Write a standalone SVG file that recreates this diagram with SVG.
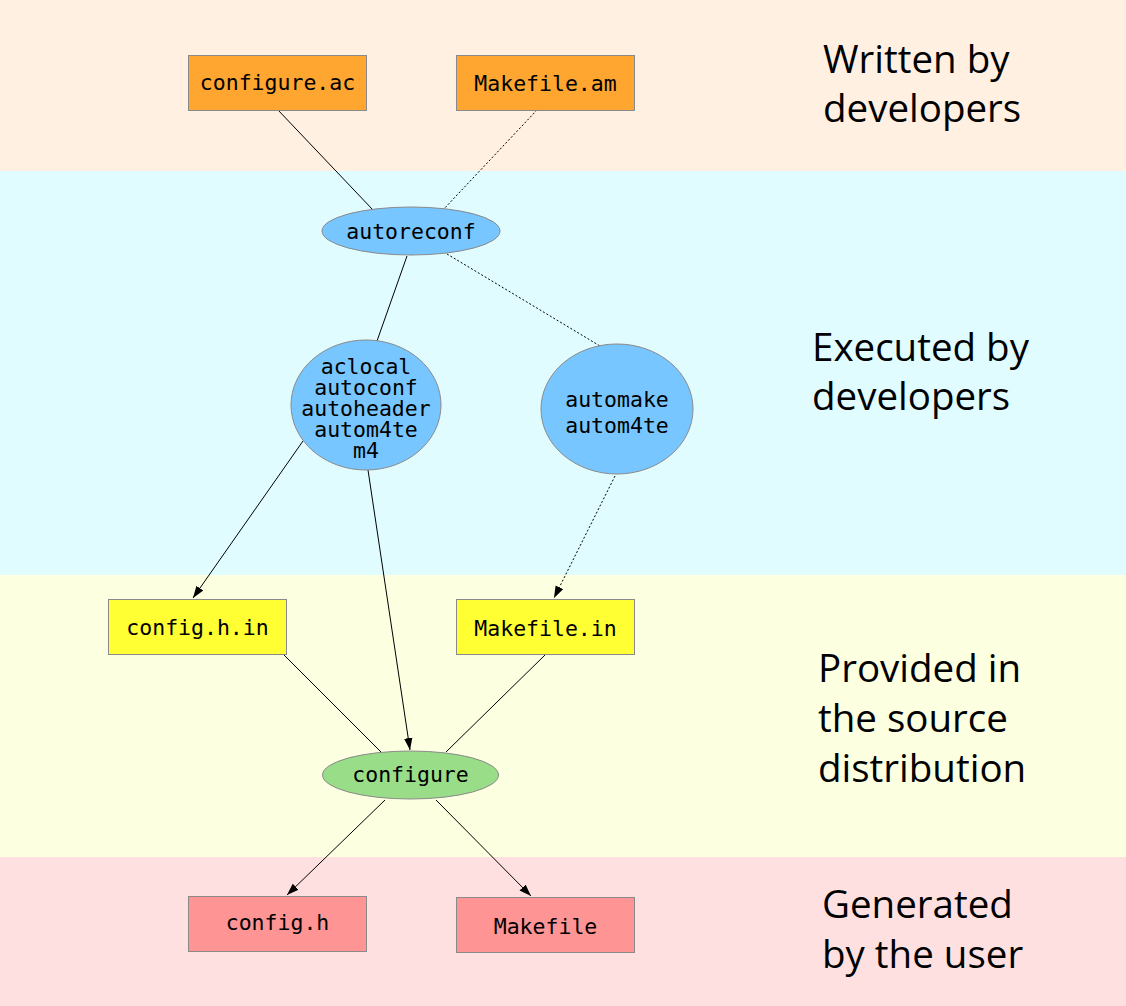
<svg xmlns="http://www.w3.org/2000/svg" width="1126" height="1006" viewBox="0 0 1126 1006">
<defs>
<marker id="arr" viewBox="0 0 12 10" refX="12" refY="5" markerWidth="12" markerHeight="10" markerUnits="userSpaceOnUse" orient="auto">
<path d="M0,0.8 L12,5 L0,9.2 Z" fill="#000"/>
</marker>
<style>
.box{stroke:#8a8a8a;stroke-width:1}
.t{font-family:"DejaVu Sans Mono",monospace;font-size:21.5px;fill:#000;text-anchor:middle}
.lab{font-family:"Open Sans","Noto Sans",sans-serif;font-size:38.5px;fill:#000}
.e{stroke:#000;stroke-width:1;fill:none}
.d{stroke-dasharray:2,2}
</style>
</defs>
<g id="bands">
<rect x="0" y="0" width="1126" height="171" fill="#FFF0E1"/>
<rect x="0" y="171" width="1126" height="404" fill="#E0FCFF"/>
<rect x="0" y="575" width="1126" height="282" fill="#FDFFE1"/>
<rect x="0" y="857" width="1126" height="149" fill="#FFE0E0"/>
</g>
<g id="labels">
<text class="lab" x="823" y="73">Written by</text>
<text class="lab" x="823" y="122">developers</text>
<text class="lab" x="812" y="361">Executed by</text>
<text class="lab" x="812" y="410">developers</text>
<text class="lab" x="818" y="682">Provided in</text>
<text class="lab" x="818" y="732">the source</text>
<text class="lab" x="818" y="782">distribution</text>
<text class="lab" x="822" y="918">Generated</text>
<text class="lab" x="822" y="968">by the user</text>
</g>
<g id="connectors">
<line class="e" x1="278" y1="110" x2="373" y2="210"/>
<line class="e d" x1="537" y1="110" x2="442" y2="211"/>
<line class="e" x1="407" y1="256" x2="377" y2="341"/>
<line class="e d" x1="447" y1="254" x2="600" y2="346"/>
<line class="e" x1="303" y1="441" x2="193" y2="598" marker-end="url(#arr)"/>
<line class="e" x1="368" y1="470" x2="410" y2="750" marker-end="url(#arr)"/>
<line class="e d" x1="615" y1="476" x2="554" y2="598" marker-end="url(#arr)"/>
<line class="e" x1="284" y1="655" x2="381" y2="752"/>
<line class="e" x1="545" y1="655" x2="446" y2="752"/>
<line class="e" x1="385" y1="800" x2="287" y2="895" marker-end="url(#arr)"/>
<line class="e" x1="436" y1="800" x2="531" y2="896" marker-end="url(#arr)"/>
</g>
<g id="configure_ac"><rect class="box" x="188.5" y="55.5" width="178" height="55" fill="#FFA630"/><text class="t" x="277.5" y="90">configure.ac</text></g>
<g id="makefile_am"><rect class="box" x="456.5" y="55.5" width="178" height="55" fill="#FFA630"/><text class="t" x="545.5" y="91">Makefile.am</text></g>
<g id="autoreconf"><ellipse class="box" cx="411" cy="231" rx="89" ry="24" fill="#77C6FF"/><text class="t" x="411" y="239">autoreconf</text></g>
<g id="aclocal"><ellipse class="box" cx="366" cy="405" rx="75" ry="65" fill="#77C6FF"/>
<text class="t" x="366" y="374"><tspan x="366">aclocal</tspan><tspan x="366" dy="21">autoconf</tspan><tspan x="366" dy="21">autoheader</tspan><tspan x="366" dy="21">autom4te</tspan><tspan x="366" dy="21">m4</tspan></text></g>
<g id="automake"><ellipse class="box" cx="617" cy="409" rx="76" ry="65" fill="#77C6FF"/>
<text class="t" x="617" y="407"><tspan x="617">automake</tspan><tspan x="617" dy="26">autom4te</tspan></text></g>
<g id="config_h_in"><rect class="box" x="108.5" y="599.5" width="178" height="55" fill="#FFFF33"/><text class="t" x="197.5" y="635">config.h.in</text></g>
<g id="makefile_in"><rect class="box" x="456.5" y="599.5" width="178" height="55" fill="#FFFF33"/><text class="t" x="545.5" y="636">Makefile.in</text></g>
<g id="configure"><ellipse class="box" cx="410.5" cy="775" rx="88" ry="24" fill="#99DD88"/><text class="t" x="410.5" y="782">configure</text></g>
<g id="config_h"><rect class="box" x="188.5" y="896.5" width="178" height="55" fill="#FF9494"/><text class="t" x="277.5" y="930">config.h</text></g>
<g id="makefile"><rect class="box" x="456.5" y="897.5" width="178" height="55" fill="#FF9494"/><text class="t" x="545.5" y="934">Makefile</text></g>
</svg>
